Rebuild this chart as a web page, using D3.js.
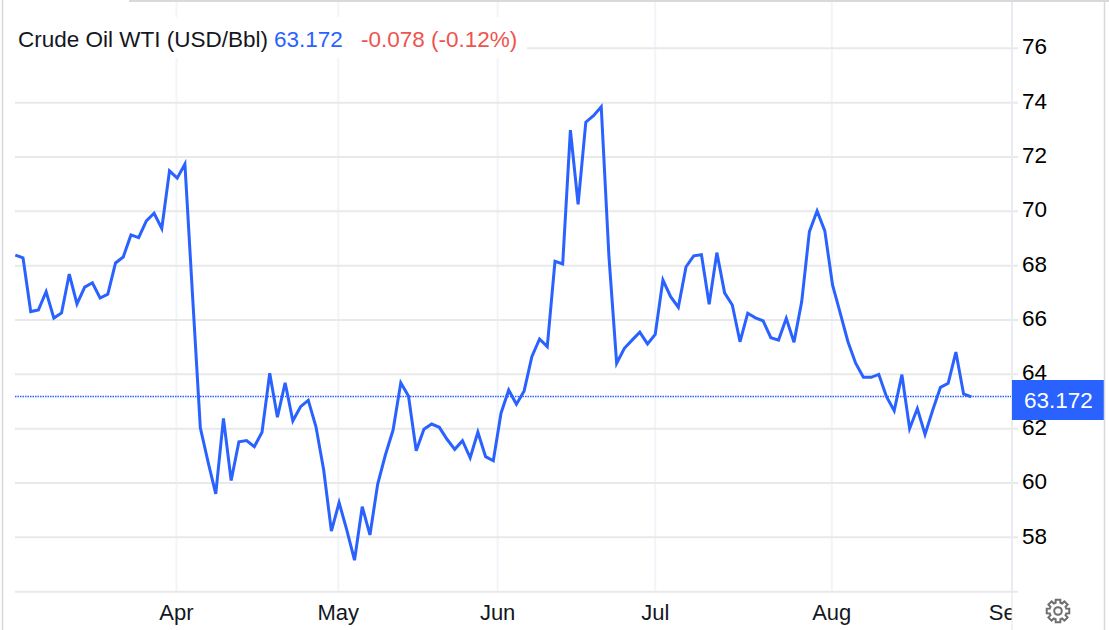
<!DOCTYPE html>
<html><head><meta charset="utf-8">
<script src="https://cdn.jsdelivr.net/npm/d3@7/dist/d3.min.js"></script>
<style>html,body{margin:0;padding:0;background:#fff;overflow:hidden}svg{display:block}text{font-family:"Liberation Sans",Arial,sans-serif}</style>
</head><body><svg id="c" width="1109" height="630"></svg>
<script>
const prices = [68.39,68.29,66.31,66.37,67.04,66.07,66.26,67.69,66.59,67.21,67.37,66.81,66.95,68.10,68.32,69.13,69.03,69.65,69.93,69.37,71.49,71.22,71.74,66.85,62.03,60.78,59.60,62.38,60.09,61.52,61.56,61.34,61.87,64.04,62.42,63.69,62.29,62.81,63.04,62.07,60.48,58.23,59.28,58.27,57.16,59.13,58.09,59.95,61.03,61.95,63.69,63.20,61.19,61.98,62.17,62.05,61.61,61.24,61.56,60.93,61.87,60.97,60.82,62.57,63.42,62.90,63.39,64.65,65.30,65.02,68.16,68.06,72.99,70.26,73.28,73.52,73.85,68.33,64.41,64.96,65.26,65.55,65.12,65.47,67.47,66.86,66.47,67.96,68.36,68.40,66.58,68.48,67.00,66.55,65.20,66.25,66.08,65.97,65.35,65.26,66.06,65.18,66.67,69.25,70.01,69.28,67.29,66.25,65.20,64.41,63.89,63.89,64.00,63.18,62.66,63.99,62.00,62.74,61.79,62.69,63.52,63.67,64.82,63.28,63.172];
const monthLabels = ["Apr","May","Jun","Jul","Aug","Sep"];
const monthSessions = [20.9,41.9,62.56,83,105.9,128.8];
const priceTicks = [58,60,62,64,66,68,70,72,74,76];
const gridFloor = 56;
const lastPrice = 63.172;
const legendName = "Crude Oil WTI (USD/Bbl)";
const legendPrice = "63.172";
const legendChange = "-0.078 (-0.12%)";

const W = 1109, H = 630;
const BLUE = "#2962ff", RED = "#ef5350", INK = "#131722", GRID = "#e9e9ea", VGRID = "#f1f4f9", FRAME = "#d9d9d9";
const svg = d3.select("#c");
const x = d3.scaleLinear().domain([0, prices.length - 1]).range([15.3, 971.3]);
const y = d3.scaleLinear().domain([56, 76]).range([591.7, 48.3]);
const plotL = 15, plotR = 1012;

// vertical month grid
svg.append("g").selectAll("line").data(monthSessions.slice(0, 5)).join("line")
  .attr("x1", d => x(d)).attr("x2", d => x(d)).attr("y1", 2).attr("y2", y(gridFloor))
  .attr("stroke", VGRID).attr("stroke-width", 2);

// horizontal price grid
svg.append("g").selectAll("line").data([gridFloor, ...priceTicks]).join("line")
  .attr("x1", plotL).attr("x2", plotR).attr("y1", d => y(d)).attr("y2", d => y(d))
  .attr("stroke", GRID).attr("stroke-width", 2);

// last price dotted line
const lastY = Math.floor(y(lastPrice)) + 0.5;
svg.append("line").attr("x1", plotL).attr("x2", plotR).attr("y1", lastY).attr("y2", lastY)
  .attr("stroke", BLUE).attr("stroke-width", 1.4).attr("stroke-dasharray", "1.5 1");

// month labels (Sep is clipped by the axis panel)
svg.append("g").selectAll("text").data(monthLabels).join("text")
  .attr("x", (d, i) => x(monthSessions[i])).attr("y", 620)
  .attr("text-anchor", "middle").attr("font-size", 22).attr("fill", INK).text(d => d);

// axis panel
svg.append("rect").attr("x", plotR).attr("y", 2).attr("width", 92).attr("height", 628).attr("fill", "#fff");
svg.selectAll(".tk").data([gridFloor, ...priceTicks]).join("line").attr("class", "tk")
  .attr("x1", plotR).attr("x2", 1018).attr("y1", d => y(d)).attr("y2", d => y(d))
  .attr("stroke", GRID).attr("stroke-width", 2);
svg.append("line").attr("x1", 1012).attr("x2", 1012).attr("y1", 2).attr("y2", y(gridFloor))
  .attr("stroke", "#e8ecf2").attr("stroke-width", 2);
svg.append("line").attr("x1", 1012).attr("x2", 1012).attr("y1", y(gridFloor)).attr("y2", 630)
  .attr("stroke", "#e4e4e4").attr("stroke-width", 1);

// price line
const line = d3.line().x((d, i) => x(i)).y(d => y(d));
svg.append("path").datum(prices).attr("d", line).attr("fill", "none")
  .attr("stroke", BLUE).attr("stroke-width", 3).attr("stroke-linejoin", "miter");

// price tick labels
svg.append("g").selectAll("text").data(priceTicks).join("text")
  .attr("x", 1022).attr("y", d => y(d) - 1.5).attr("dy", "0.34em")
  .attr("font-size", 22.5).attr("fill", "#000").text(d => d);

// last price tag
svg.append("rect").attr("x", 1012).attr("y", 380).attr("width", 93).attr("height", 40).attr("fill", BLUE);
svg.append("text").attr("x", 1024).attr("y", 400).attr("dy", "0.36em")
  .attr("font-size", 22.5).attr("fill", "#fff").text(d3.format(".3f")(lastPrice));

// legend
svg.append("rect").attr("x", 15).attr("y", 17).attr("width", 512).attr("height", 41).attr("fill", "#fff");
const lg = svg.append("g").attr("font-size", 22.5);
lg.append("text").attr("x", 18).attr("y", 47).attr("fill", INK).text(legendName);
lg.append("text").attr("x", 274).attr("y", 47).attr("fill", BLUE).text(legendPrice);
lg.append("text").attr("x", 361).attr("y", 47).attr("fill", RED).text(legendChange);

// settings gear
const gc = [1058, 611], teeth = 8, rO = 11.5, rI = 8.6;
const gearPts = [];
for (let i = 0; i < teeth; i++) {
  const a = i * 2 * Math.PI / teeth, w = 0.2, g = 0.28;
  [[a - g, rI], [a - w, rO], [a + w, rO], [a + g, rI]].forEach(([t, r]) =>
    gearPts.push([gc[0] + r * Math.sin(t), gc[1] - r * Math.cos(t)]));
}
svg.append("path").attr("d", d3.line().curve(d3.curveLinearClosed)(gearPts))
  .attr("fill", "none").attr("stroke", "#6f6f6f").attr("stroke-width", 2);
svg.append("circle").attr("cx", gc[0]).attr("cy", gc[1]).attr("r", 3.8)
  .attr("fill", "none").attr("stroke", "#6f6f6f").attr("stroke-width", 2);

// frame
svg.append("line").attr("x1", 129).attr("x2", W).attr("y1", 1).attr("y2", 1).attr("stroke", FRAME).attr("stroke-width", 2);
svg.append("line").attr("x1", 2.5).attr("x2", 2.5).attr("y1", 0).attr("y2", H).attr("stroke", FRAME).attr("stroke-width", 1.5);
svg.append("line").attr("x1", 1104.5).attr("x2", 1104.5).attr("y1", 0).attr("y2", H).attr("stroke", FRAME).attr("stroke-width", 1.5);
</script></body></html>
